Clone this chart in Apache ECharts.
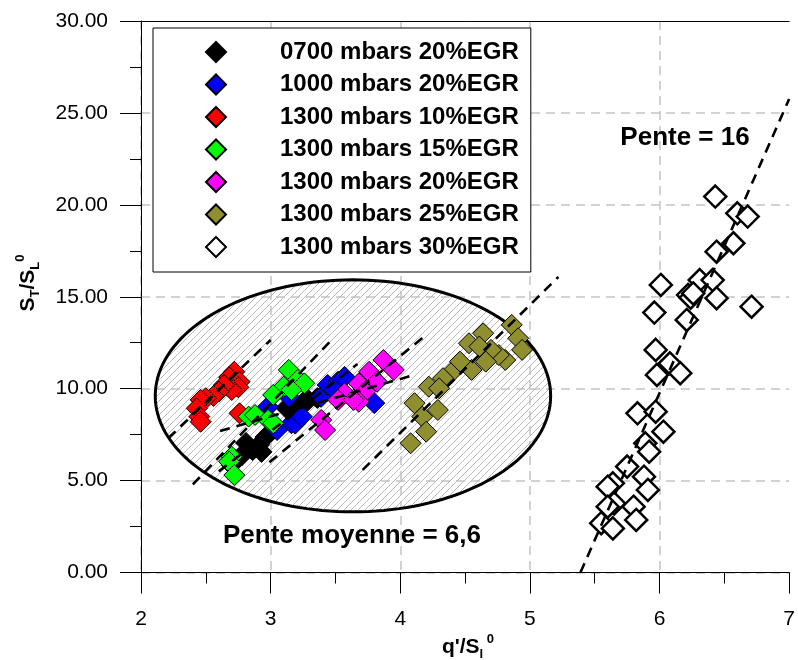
<!DOCTYPE html>
<html><head><meta charset="utf-8">
<script src="https://cdn.jsdelivr.net/npm/echarts@6/dist/echarts.min.js"></script>
<style>html,body{margin:0;padding:0;background:#fff}#c{width:798px;height:660px}</style>
</head><body><div id="c"></div>
<script>
// ---- Data ----
const seriesNames = ['0700 mbars 20%EGR','1000 mbars 20%EGR','1300 mbars 10%EGR','1300 mbars 15%EGR','1300 mbars 20%EGR','1300 mbars 25%EGR','1300 mbars 30%EGR'];
const seriesColors = ['#000000','#0000ff','#ff0000','#00ff00','#ff00ff','#8f8f2f','#ffffff'];
const xTicks = [2,3,4,5,6,7];
const yTicks = [0,5,10,15,20,25,30];

const p0700_20 = [[2.73,6.12],[2.78,6.39],[2.81,7.05],[2.86,6.66],[2.91,6.94],[2.93,6.56],[2.96,7.37],[2.70,5.85],[3.12,8.95],[3.25,9.25],[3.21,8.84],[3.29,9.38],[3.36,9.49]];
const p1000_20 = [[2.98,9.02],[3.05,7.75],[3.16,8.12],[3.19,8.10],[3.14,9.56],[3.24,8.48],[3.39,9.56],[3.44,10.20],[3.52,10.38],[3.57,10.64],[3.49,9.93],[3.80,9.21]];
const p1300_10 = [[2.72,10.92],[2.68,10.62],[2.76,10.38],[2.75,10.08],[2.70,9.93],[2.64,10.20],[2.60,9.84],[2.56,9.60],[2.50,9.48],[2.46,9.39],[2.43,8.93],[2.45,8.48],[2.46,8.20],[2.76,8.66]];
const p1300_15 = [[3.14,11.02],[3.21,10.48],[3.26,10.29],[3.10,10.11],[3.16,9.93],[3.02,9.66],[2.83,8.48],[2.88,8.57],[2.98,8.30],[3.02,8.12],[2.70,6.30],[2.68,6.03],[2.72,5.30]];
const p1300_20 = [[3.87,11.56],[3.95,11.02],[3.78,10.65],[3.76,10.92],[3.82,10.38],[3.68,10.29],[3.73,9.84],[3.57,9.75],[3.68,9.29],[3.52,9.39],[3.64,9.39],[3.39,8.30],[3.42,7.75]];
const p1300_25 = [[4.86,13.47],[4.91,12.74],[4.94,12.11],[4.81,11.56],[4.76,11.83],[4.70,12.11],[4.64,13.01],[4.53,12.47],[4.61,12.29],[4.66,11.47],[4.55,11.02],[4.46,11.47],[4.39,10.84],[4.33,10.57],[4.22,10.11],[4.30,10.02],[4.11,9.21],[4.17,8.48],[4.29,8.84],[4.20,7.66],[4.08,7.03]];
const p1300_30 = [[6.43,20.45],[6.60,19.54],[6.68,19.36],[6.57,17.91],[6.44,17.45],[6.31,15.91],[6.41,15.91],[6.22,15.10],[6.24,14.95],[6.26,15.18],[6.44,14.92],[6.71,14.46],[6.01,15.64],[5.96,14.14],[6.21,13.74],[5.97,12.11],[6.08,11.38],[5.98,10.75],[6.16,10.84],[5.83,8.66],[5.97,8.75],[6.03,7.66],[5.89,7.03],[5.92,6.57],[5.75,5.76],[5.88,5.21],[5.91,4.49],[5.64,4.85],[5.60,4.67],[5.65,3.76],[5.60,3.58],[5.80,3.58],[5.82,2.86],[5.55,2.68],[5.64,2.40]];

// dashed fit lines (end points)
const fitRed = [[2.21,7.30],[3.00,12.65]];
const fitGreen = [[2.40,4.79],[3.47,12.65]];
const fitBlack = [[2.60,5.50],[3.67,11.34]];
const fitBlue = [[2.61,7.70],[4.11,10.75]];
const fitMagenta = [[2.99,6.00],[4.20,12.92]];
const fitOlive = [[3.71,5.58],[5.22,16.08]];
const fitOpen = [[5.39,0],[7.0,25.76]];

// ellipse: centre x, centre y, semi-axis x, semi-axis y (data units)
const ellipseData = [[3.635, 9.61, 1.525, 6.31]];

const annotations = ['Pente = 16', 'Pente moyenne = 6,6'];

// ---- Chart ----
const FF = '"Liberation Sans", Arial, Helvetica, sans-serif';
const pc = document.createElement('canvas');
pc.width = 7; pc.height = 7;
const g = pc.getContext('2d');
g.strokeStyle = '#b8b8b8'; g.lineWidth = 1;
g.beginPath(); g.moveTo(-1,8); g.lineTo(8,-1); g.stroke();
g.beginPath(); g.moveTo(-1,1); g.lineTo(1,-1); g.stroke();
g.beginPath(); g.moveTo(6,8); g.lineTo(8,6); g.stroke();
const hatch = {image: pc, repeat: 'repeat'};

const pointSets = [p0700_20,p1000_20,p1300_10,p1300_15,p1300_20,p1300_25,p1300_30];
const fits = [fitRed, fitGreen, fitBlack, fitBlue, fitMagenta, fitOlive, fitOpen];

const series = [{
  type:'custom', name:'ellipse', z:1, silent:true, clip:false,
  data: ellipseData,
  renderItem(params, api){
    const c = api.coord([api.value(0), api.value(1)]);
    const s = api.size([api.value(2), api.value(3)]);
    const pts = [];
    for (let i=0;i<=160;i++){ const t=i/160*2*Math.PI; pts.push([c[0]+s[0]*Math.cos(t), c[1]+s[1]*Math.sin(t)]); }
    return {type:'polygon', shape:{points:pts}, style:{fill:hatch, stroke:'#000', lineWidth:3}};
  }
}];
pointSets.forEach((d,i)=>{
  const open = i===6;
  series.push({
    type:'scatter', name:seriesNames[i], data:d, symbol:'diamond',
    symbolSize: open?22:21, z:2,
    itemStyle:{color:seriesColors[i], borderColor:'#000', borderWidth: open?2.5:1, opacity:1}
  });
});
fits.forEach(f=>{
  series.push({type:'line', data:f, symbol:'none', z:3, silent:true,
    lineStyle:{color:'#000', width:2.6, type:[10,7]}});
});

const chart = echarts.init(document.getElementById('c'), null, {renderer:'canvas'});
chart.setOption({
  animation:false,
  backgroundColor:'#fff',
  grid:{left:141, right:1, top:21, bottom:87.5, containLabel:false},
  xAxis:[{
    type:'value', min:xTicks[0], max:xTicks[xTicks.length-1], interval:1,
    axisLine:{onZero:false, lineStyle:{color:'#000', width:1}},
    axisTick:{length:21, lineStyle:{color:'#000', width:1}},
    minorTick:{show:true, splitNumber:2, length:11, lineStyle:{color:'#000', width:1}},
    splitLine:{show:true, showMaxLine:false, lineStyle:{color:'#c4c4c4', width:1.5, type:[9,6]}},
    axisLabel:{fontSize:21, color:'#000', fontFamily:FF, margin:36, showMaxLabel:true}
  },{
    type:'value', position:'top', min:xTicks[0], max:xTicks[xTicks.length-1],
    axisLine:{show:true, onZero:false, lineStyle:{color:'#000', width:1}},
    axisTick:{show:false}, axisLabel:{show:false}, splitLine:{show:false}
  }],
  yAxis:{
    type:'value', min:yTicks[0], max:yTicks[yTicks.length-1], interval:5,
    axisLine:{show:true, onZero:false, lineStyle:{color:'#000', width:1}},
    axisTick:{show:true, length:21, lineStyle:{color:'#000', width:1}},
    minorTick:{show:true, splitNumber:2, length:11, lineStyle:{color:'#000', width:1}},
    splitLine:{show:true, showMaxLine:false, lineStyle:{color:'#c4c4c4', width:1.5, type:[9,6]}},
    axisLabel:{fontSize:21, color:'#000', fontFamily:FF, margin:33, formatter:v=>v.toFixed(2)}
  },
  legend:{
    orient:'vertical', left:153, top:28, padding:[12,12,13,52],
    itemWidth:20, itemHeight:20, itemGap:8.5,
    backgroundColor:'#fff', borderColor:'#000', borderWidth:1,
    textStyle:{fontSize:24, fontWeight:'bold', fontFamily:FF, color:'#000', padding:[0,0,0,49]},
    data:seriesNames
  },
  graphic:[
    {type:'text', x:685, y:138, z:10, style:{text:annotations[0], font:'bold 26px '+FF, fill:'#000', align:'center', verticalAlign:'middle', textAlign:'center', textVerticalAlign:'middle'}},
    {type:'text', x:352, y:536, z:10, style:{text:annotations[1], font:'bold 26px '+FF, fill:'#000', align:'center', verticalAlign:'middle', textAlign:'center', textVerticalAlign:'middle'}},
    {type:'text', x:468, y:647, z:10, style:{
      text:"{m|q'/S}{sub|l}{sup| 0}", align:'center', verticalAlign:'middle', textAlign:'center', textVerticalAlign:'middle',
      rich:{
        m:{fontSize:21, fontWeight:'bold', fontFamily:FF, color:'#000', lineHeight:28, verticalAlign:'middle'},
        sub:{fontSize:13, fontWeight:'bold', fontFamily:FF, color:'#000', lineHeight:13, verticalAlign:'bottom'},
        sup:{fontSize:13, fontWeight:'bold', fontFamily:FF, color:'#000', lineHeight:13, verticalAlign:'top'}
      }}},
    {type:'text', x:28, y:283, rotation:Math.PI/2, z:10, style:{
      text:"{m|S}{sub|T}{m|/S}{sub|L}{sup|0}", align:'center', verticalAlign:'middle', textAlign:'center', textVerticalAlign:'middle',
      rich:{
        m:{fontSize:21, fontWeight:'bold', fontFamily:FF, color:'#000', lineHeight:28, verticalAlign:'middle'},
        sub:{fontSize:13, fontWeight:'bold', fontFamily:FF, color:'#000', lineHeight:13, verticalAlign:'bottom'},
        sup:{fontSize:13, fontWeight:'bold', fontFamily:FF, color:'#000', lineHeight:13, verticalAlign:'top'}
      }}}
  ],
  series: series
});
</script>
</body></html>
